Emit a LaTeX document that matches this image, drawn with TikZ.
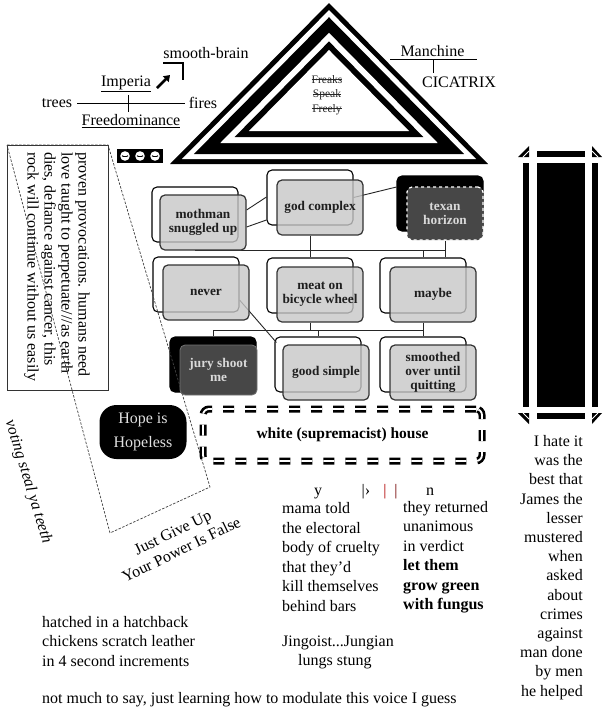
\documentclass[tikz,border=0pt]{standalone}
\usepackage{fontspec}
\setmainfont{Liberation Serif}
\usetikzlibrary{calc,arrows.meta}
\pgfdeclarelayer{canvas}
\pgfdeclarelayer{bgl}
\pgfsetlayers{canvas,bgl,main}
\newsavebox{\strikebox}
\newcommand\strikeit[1]{\sbox{\strikebox}{#1}\rlap{\rule[0.28em]{\wd\strikebox}{0.6pt}}\usebox{\strikebox}}
\begin{document}
\begin{tikzpicture}[x=1pt,y=-1pt,
  txt/.style={inner sep=0pt, font=\fontsize{16}{19.5}\selectfont},
  backbox/.style={draw=black, line width=1.1pt, fill=white, rounded corners=5pt, minimum width=86pt, minimum height=55pt, inner sep=0pt},
  frontbox/.style={draw=black!80, line width=1.2pt, fill=black!22, fill opacity=0.8, text opacity=1, rounded corners=5pt, minimum width=86pt, minimum height=55pt, inner sep=0pt, align=center, font=\fontsize{13.3}{14}\selectfont\bfseries, text=black!88},
  darkback/.style={backbox, fill=black},
  darkfront/.style={frontbox, fill=black!72, fill opacity=1, text=black!15},
  conn/.style={draw=black!85, line width=0.9pt},
]
\begin{pgfonlayer}{canvas}
\fill[white] (0,0) rectangle (603,713);
\end{pgfonlayer}
\useasboundingbox (0,0) rectangle (603,713);

% ---------- triangle ----------
\coordinate (TA) at (329,3);
\coordinate (TB) at (170,164);
\coordinate (TC) at (488,164);
\coordinate (TI) at (329,97.56);
\foreach \s/\c in {1/black,0.9247/white,0.8495/black,0.6839/white,0.5936/black,0.5033/white}
  \fill[\c] ($(TI)!\s!(TA)$) -- ($(TI)!\s!(TB)$) -- ($(TI)!\s!(TC)$) -- cycle;
\node[inner sep=0pt, font=\fontsize{11.5}{14.5}\selectfont, align=center, text=black!85] (freaks) at (327,95) {\strikeit{Freaks}\\\strikeit{Speak}\\\strikeit{Freely}};

% ---------- top left ----------
\node[txt] (smooth) at (206,53) {smooth-brain};
\draw[line width=2.6pt] (163,63) -- (183,63) -- (183,80);
\draw[line width=2.6pt, -{Triangle[length=6pt,width=8pt]}] (157,88) -- (170,75);
\node[txt] (imperia) at (126,84) {\underline{Imperia}};
\node[txt] (trees) at (57,103) {trees};
\node[txt] (fires) at (203,103) {fires};
\draw[line width=0.8pt] ($(trees.east)+(5,0)$) -- ($(fires.west)+(-4,0)$);
\coordinate (tick) at (128,103);
\draw[line width=0.8pt] ($(tick)+(0,-8)$) -- ($(tick)+(0,9)$);
\node[txt] (freedom) at (131,121) {\underline{Freedominance}};

% ---------- top right ----------
\node[txt] (manchine) at (432.5,51) {Manchine};
\coordinate (mbar) at (433,59);
\draw[line width=0.8pt] (390,59) -- (477,59);
\draw[line width=0.8pt] (mbar) -- ++(0,14);
\node[txt] (cicatrix) at (459,82) {CICATRIX};

% ---------- arrows box ----------
\fill[black] (117,149) rectangle (163,163);
\foreach \x in {125,140,155} {
  \fill[white] (\x,156) circle (4.8pt);
  \draw[black, line width=0.6pt, {Latex[length=2pt]}-{Latex[length=2pt]}] (\x-3.8,156) -- (\x+3.8,156);
}

% ---------- left rotated box ----------
\draw[line width=0.9pt, draw=black!80] (7,145) rectangle (108,390);
\node[txt, rotate=-90, anchor=north west, align=left, font=\fontsize{16}{17}\selectfont] (proven) at (90,152) {proven provocations. humans need\\love taught to perpetuate///as earth\\dies, defiance against cancer, this\\rock will continue without us easily};
\draw[dash pattern=on 2.5pt off 1.5pt, line width=0.7pt, draw=black!75] (7,145) -- (108,145) -- (210,487) -- (110,533) -- cycle;
\node[txt, rotate=-73, font=\fontsize{16}{19}\selectfont\itshape] (voting) at (28,482) {voting steal ya teeth};
\node[txt, rotate=26, align=center] (give) at (177,541) {Just Give Up\\Your Power Is False};
\node[fill=black, rounded corners=17pt, minimum width=87pt, minimum height=54pt, inner sep=0pt, align=center, text=black!12, font=\fontsize{16}{24}\selectfont] (hope) at (143,432) {Hope is\\Hopeless};

% ---------- grid ----------
\node[frontbox] (mothF) at (203,222.5) {mothman\\snuggled up};
\node[frontbox] (godF) at (320,207.5) {god complex};
\node[darkfront, minimum width=76pt, minimum height=53pt, draw=white, dashed] (texF) at (445,213.5) {texan\\horizon};
\node[frontbox] (neverF) at (206,292.5) {never};
\node[frontbox] (meatF) at (320,294.5) {meat on\\bicycle wheel};
\node[frontbox] (maybeF) at (433,294.5) {maybe};
\node[darkfront, minimum width=77pt, minimum height=50pt, draw=black!55, line width=0.8pt] (juryF) at (218.5,370) {jury shoot\\me};
\node[frontbox] (goodF) at (326,372.5) {good simple};
\node[frontbox] (smoothF) at (433,372.5) {smoothed\\over until\\quitting};

\begin{pgfonlayer}{bgl}
\node[backbox] (mothB) at (195,214.5) {};
\node[backbox] (godB) at (310,197.5) {};
\node[darkback] (texB) at (440,203.5) {};
\node[backbox] (neverB) at (196,284.5) {};
\node[backbox] (meatB) at (310,285.5) {};
\node[backbox] (maybeB) at (423,285.5) {};
\node[darkback] (juryB) at (213,364.5) {};
\node[backbox] (goodB) at (318,364.5) {};
\node[backbox] (smoothB) at (423,364.5) {};
\draw[conn] ($(mothF.east)+(0,-12.5)$) -- ($(godB.west)+(0,-0.5)$);
\draw[conn] ($(mothF.east)+(0,4.5)$) -- ($(godB.west)+(0,22.5)$);
\draw[conn] (godB.east) -- ($(texB.west)+(0,-16.5)$);
\draw[conn] (godB.center |- godF.south) -- (meatB.north);
\draw[conn] (mothB.center |- mothF.south) -- (texF.south |- mothF.south);
\draw[conn] (texF.south) -- (texF.south |- maybeB.north);
\draw[conn] (maybeB.north) -- (maybeB.north |- mothF.south);
\coordinate (busB) at (0,330);
\draw[conn] (juryB.north |- busB) -- (maybeB.center |- busB);
\draw[conn] (meatB.center |- meatF.south) -- (meatB.center |- busB);
\draw[conn] (goodB.north) -- (goodB.north |- busB);
\draw[conn] (juryB.north) -- (juryB.north |- busB);
\draw[conn] (maybeB.center |- maybeF.south) -- (smoothB.north);
\draw[conn] ($(neverB.east)+(0,15.5)$) -- ($(goodB.west)+(2,-22)$);
\end{pgfonlayer}

% ---------- house ----------
\node[draw=black, line width=2.6pt, double=white, double distance=1.8pt, dash pattern=on 11pt off 11pt, rounded corners=6pt, minimum width=279pt, minimum height=52pt, font=\fontsize{15.5}{18}\selectfont\bfseries] (house) at (342.5,435) {white (supremacist) house};

% ---------- right bar ----------
\fill (537,163) rectangle (585,407);
\fill (523,163) rectangle (529,407);
\fill (592,163) rectangle (598,407);
\fill (537,151) rectangle (585,157);
\fill (537,413) rectangle (585,419);
\fill (518,157) -- (529,157) -- (529,146) -- cycle;
\fill (592,146) -- (592,157) -- (602,157) -- cycle;
\fill (518,413) -- (529,413) -- (529,424) -- cycle;
\fill (592,413) -- (602,413) -- (592,424) -- cycle;
\draw[white, line width=1pt] (523,157) -- (529,151) (592,151) -- (598,157) (523,413) -- (529,419) (592,419) -- (598,413);
\node[txt, anchor=east, align=right, font=\fontsize{16}{19.2}\selectfont] (hate) at (583,567.5) {I hate it\\was the\\best that\\James the\\lesser\\mustered\\when\\asked\\about\\crimes\\against\\man done\\by men\\he helped};

% ---------- y / n ----------
\node[txt, anchor=base] (y) at (318,495) {y};
\node[txt, anchor=base] (bar1) at (366,495) {|›};
\node[txt, anchor=base, text=red!70!black] (bar2) at (385,495) {|};
\node[txt, anchor=base, text=red!45!black] (bar3) at (396,495) {|};
\node[txt, anchor=base] (n) at (430,495) {n};
\node[txt, anchor=west, align=left] (ycol) at (282,557) {mama told\\the electoral\\body of cruelty\\that they’d\\kill themselves\\behind bars};
\node[txt, anchor=west, align=left] (ncol) at (403,557) {they returned\\unanimous\\in verdict\\\textbf{let them}\\\textbf{grow green}\\\textbf{with fungus}};

% ---------- bottom ----------
\node[txt, anchor=west, align=left] (hatch) at (42,641.5) {hatched in a hatchback\\chickens scratch leather\\in 4 second increments};
\node[txt, anchor=west] (jingo) at (282,643) {Jingoist...Jungian};
\node[txt, anchor=west] (lungs) at (298,662) {lungs stung};
\node[txt, anchor=west] (notmuch) at (42,700) {not much to say, just learning how to modulate this voice I guess};
\end{tikzpicture}
\end{document}
